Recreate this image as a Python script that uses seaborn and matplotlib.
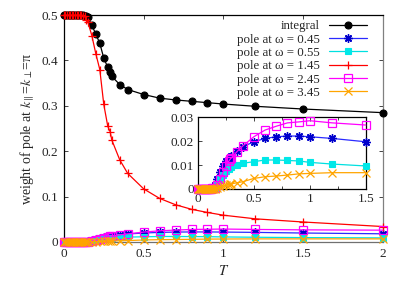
import matplotlib
matplotlib.use("Agg")
import matplotlib.pyplot as plt
import seaborn as sns
import pandas as pd
from matplotlib.ticker import FuncFormatter, MultipleLocator

# ---------------- data ----------------
T = [0.0, 0.01, 0.02, 0.03, 0.04, 0.05, 0.06, 0.07, 0.08, 0.09, 0.10, 0.11, 0.12,
     0.13, 0.14, 0.15, 0.175, 0.2, 0.225, 0.25, 0.275, 0.29, 0.3, 0.35, 0.4,
     0.5, 0.6, 0.7, 0.8, 0.9, 1.0, 1.2, 1.5, 2.0]

integral = [0.5, 0.5, 0.5, 0.5, 0.5, 0.5, 0.5, 0.5, 0.5, 0.5, 0.5, 0.5, 0.5,
            0.499, 0.498, 0.495, 0.478, 0.458, 0.438, 0.405, 0.385, 0.375, 0.365, 0.347, 0.336,
            0.325, 0.317, 0.313, 0.310, 0.307, 0.304, 0.299, 0.293, 0.285]

pole_045 = [0, 0, 0, 0, 0, 0, 0, 0, 0, 0, 0, 0.0001, 0.0003,
            0.0006, 0.001, 0.0015, 0.004, 0.007, 0.0095, 0.0115, 0.0125, 0.0132, 0.0138, 0.016, 0.0176,
            0.0197, 0.0211, 0.0218, 0.0221, 0.0221, 0.0218, 0.0211, 0.0197, 0.018]

pole_055 = [0, 0, 0, 0, 0, 0, 0, 0, 0, 0, 0, 0.0001, 0.0002,
            0.0003, 0.0004, 0.0005, 0.002, 0.004, 0.006, 0.0075, 0.0085, 0.009, 0.0093, 0.0102, 0.0107,
            0.0114, 0.0121, 0.0121, 0.0119, 0.0117, 0.0111, 0.0104, 0.0096, 0.009]

pole_145 = [0.5, 0.5, 0.5, 0.5, 0.5, 0.5, 0.5, 0.5, 0.5, 0.5, 0.5, 0.5, 0.499,
            0.497, 0.49, 0.485, 0.455, 0.415, 0.38, 0.303, 0.255, 0.243, 0.225, 0.181, 0.151,
            0.117, 0.096, 0.082, 0.072, 0.065, 0.059, 0.051, 0.044, 0.034]

pole_245 = [0, 0, 0, 0, 0, 0, 0, 0, 0, 0, 0, 0, 0.0001,
            0.0002, 0.0002, 0.0003, 0.0015, 0.004, 0.007, 0.0095, 0.0115, 0.0125, 0.013, 0.0156, 0.0179,
            0.0218, 0.0246, 0.0262, 0.0276, 0.028, 0.0285, 0.0276, 0.0267, 0.026]

pole_345 = [0, 0, 0, 0, 0, 0, 0, 0, 0, 0, 0, 0, 0,
            0.0001, 0.0001, 0.0001, 0.0004, 0.0008, 0.0012, 0.0015, 0.0018, 0.002, 0.0021, 0.0026, 0.003,
            0.0044, 0.0051, 0.0054, 0.0058, 0.0063, 0.0065, 0.0068, 0.0068, 0.0068]

labels = ["integral", "pole at ω = 0.45", "pole at ω = 0.55", "pole at ω = 1.45",
          "pole at ω = 2.45", "pole at ω = 3.45"]

# ---------------- style ----------------
sns.set_theme(style="ticks")
plt.rcParams["font.family"] = ["Liberation Serif", "DejaVu Serif"]
plt.rcParams["mathtext.fontset"] = "stix"
plt.rcParams["xtick.direction"] = "in"
plt.rcParams["ytick.direction"] = "in"
plt.rcParams["xtick.top"] = True
plt.rcParams["ytick.right"] = True

series = [
    (integral, dict(color="black", marker="o", markersize=5, mfc="black", mec="black", mew=0.8)),
    (pole_045, dict(color="#2a2aff", marker=(8, 2, 0), markersize=6, mec="#0000cc", mew=1.0)),
    (pole_055, dict(color="#00e0e0", marker="s", markersize=5, mfc="#00e8e8", mec="#00e8e8", mew=0.8)),
    (pole_145, dict(color="#ff0000", marker="+", markersize=6, mec="#ff0000", mew=0.9)),
    (pole_245, dict(color="#ff00ff", marker="s", markersize=6, mfc="none", mec="#ff00ff", mew=0.9)),
    (pole_345, dict(color="#ffa500", marker="x", markersize=6, mec="#ffa500", mew=0.9)),
]

fig = plt.figure(figsize=(4.07, 2.85), dpi=100)
ax = fig.add_axes([0.157, 0.151, 0.784, 0.796])

fmt = FuncFormatter(lambda v, p: "%g" % round(v, 6))

for (vals, kw), lab in zip(series, labels):
    df = pd.DataFrame({"T": T, "w": vals})
    sns.lineplot(data=df, x="T", y="w", ax=ax, label=lab, linewidth=0.9,
                 estimator=None, sort=False, clip_on=False, zorder=3, **kw)

ax.set_xlim(0, 2)
ax.set_ylim(0, 0.5)
ax.xaxis.set_major_locator(MultipleLocator(0.5))
ax.yaxis.set_major_locator(MultipleLocator(0.1))
ax.xaxis.set_major_formatter(fmt)
ax.yaxis.set_major_formatter(fmt)
ax.tick_params(labelsize=9.5, length=3, width=0.6, pad=4)
ax.set_xlabel("$T$", fontsize=10.5, labelpad=3)
ax.set_ylabel(r"weight of pole at $k_{\parallel}$=$k_{\perp}$=π", fontsize=10, labelpad=3)
for s in ax.spines.values():
    s.set_linewidth(0.9)
    s.set_color("black")
ax.spines["right"].set_color("#808080")
ax.spines["bottom"].set_color("#707070")

leg = ax.legend(loc="upper right", frameon=False, markerfirst=False, fontsize=9.3,
                handlelength=2.9, handletextpad=0.7, labelspacing=0.1,
                borderaxespad=0.2, bbox_to_anchor=(0.973, 1.012))

# ---------------- inset ----------------
ins = fig.add_axes([0.486, 0.337, 0.413, 0.252])
for (vals, kw), lab in list(zip(series, labels))[1:]:
    if lab == labels[3]:
        continue
    sub_T = [t for t in T if t <= 1.5]
    sub_v = vals[:len(sub_T)]
    df = pd.DataFrame({"T": sub_T, "w": sub_v})
    sns.lineplot(data=df, x="T", y="w", ax=ins, linewidth=0.9, legend=False,
                 estimator=None, sort=False, clip_on=False, zorder=3, **kw)
ins.set_xlim(0, 1.5)
ins.set_ylim(0, 0.03)
ins.xaxis.set_major_locator(MultipleLocator(0.5))
ins.xaxis.set_minor_locator(MultipleLocator(0.25))
ins.yaxis.set_major_locator(MultipleLocator(0.01))
ins.xaxis.set_major_formatter(fmt)
ins.yaxis.set_major_formatter(fmt)
ins.tick_params(which="both", labelsize=9.5, length=3, width=0.6, pad=3)
ins.tick_params(which="minor", length=2)
ins.set_xlabel("")
ins.set_ylabel("")
for s in ins.spines.values():
    s.set_linewidth(0.9)
    s.set_color("black")

fig.savefig("out.png", dpi=100)
